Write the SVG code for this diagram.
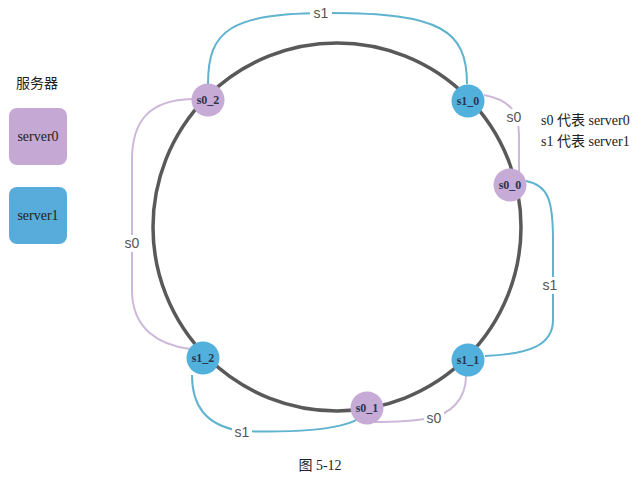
<svg xmlns="http://www.w3.org/2000/svg" width="640" height="477" viewBox="0 0 640 477">
<style>
.ring{fill:none;stroke:#595959;stroke-width:3.5}
.c1{fill:none;stroke:#5fb3cf;stroke-width:2}
.c0{fill:none;stroke:#cdb8d9;stroke-width:2}
.n0{fill:#c5abd5}
.n1{fill:#52b0dc}
.nl{font-family:"Liberation Serif","DejaVu Serif",serif;font-size:12px;font-weight:bold;fill:#2b3550;text-anchor:middle}
.el{font-family:"Liberation Sans","DejaVu Sans",sans-serif;font-size:14px;fill:#555;text-anchor:middle}
.tx{font-family:"Liberation Serif","Noto Sans CJK SC",serif;font-size:14px;fill:#222}
.bg{fill:#fff}
</style>
<rect width="640" height="477" fill="#fff"/>
<g id="ring"><circle class="ring" cx="337" cy="227" r="184"/></g>
<g id="connectors">
<path class="c1" d="M208,84 C208,30 230,13 330,13 C440,13 467,30 467,84"/>
<path class="c0" d="M484,95 C510,100 519,112 519,135 L519,172"/>
<path class="c1" d="M526,181 C548,185 553,200 553,240 L553,320 C553,345 530,354 485,356"/>
<path class="c0" d="M466,376 C466,400 450,414 430,418 C410,422 390,422 372,422"/>
<path class="c1" d="M192,375 C192,405 205,425 240,431 C290,433 340,430 358,419"/>
<path class="c0" d="M190,349 C160,345 132,330 132,290 L132,160 C132,120 150,100 192,99"/>
<rect class="bg" x="310" y="4" width="22" height="17"/>
<text class="el" x="321" y="18">s1</text>
<rect class="bg" x="504" y="109" width="20" height="17"/>
<text class="el" x="514" y="122">s0</text>
<rect class="bg" x="542" y="277" width="20" height="17"/>
<text class="el" x="550" y="290">s1</text>
<rect class="bg" x="424" y="411" width="20" height="15"/>
<text class="el" x="434" y="423">s0</text>
<rect class="bg" x="232" y="424" width="20" height="15"/>
<text class="el" x="242" y="437">s1</text>
<rect class="bg" x="122" y="235" width="20" height="17"/>
<text class="el" x="132" y="248">s0</text>
</g>
<g id="s0_2"><circle class="n0" cx="208" cy="100" r="16.5"/><text class="nl" x="208" y="104">s0_2</text></g>
<g id="s1_0"><circle class="n1" cx="468" cy="101" r="16.5"/><text class="nl" x="468" y="105">s1_0</text></g>
<g id="s0_0"><circle class="n0" cx="510" cy="185" r="16.5"/><text class="nl" x="510" y="189">s0_0</text></g>
<g id="s1_1"><circle class="n1" cx="468" cy="360" r="16.5"/><text class="nl" x="468" y="364">s1_1</text></g>
<g id="s0_1"><circle class="n0" cx="367" cy="408" r="16.5"/><text class="nl" x="367" y="412">s0_1</text></g>
<g id="s1_2"><circle class="n1" cx="203" cy="358" r="16.5"/><text class="nl" x="203" y="362">s1_2</text></g>
<g id="legend">
<text class="tx" x="37" y="88" text-anchor="middle">服务器</text>
<g id="server0"><rect x="9" y="108" width="58" height="57" rx="8" fill="#c5a9d4"/><text class="tx" x="38" y="141" text-anchor="middle">server0</text></g>
<g id="server1"><rect x="9" y="187" width="58" height="57" rx="8" fill="#58acdb"/><text class="tx" x="38" y="220" text-anchor="middle">server1</text></g>
<text class="tx" x="541" y="125" font-size="13.5">s0 代表 server0</text>
<text class="tx" x="541" y="146" font-size="13.5">s1 代表 server1</text>
</g>
<text class="tx" x="320" y="470" text-anchor="middle" font-size="15">图 5-12</text>
</svg>
